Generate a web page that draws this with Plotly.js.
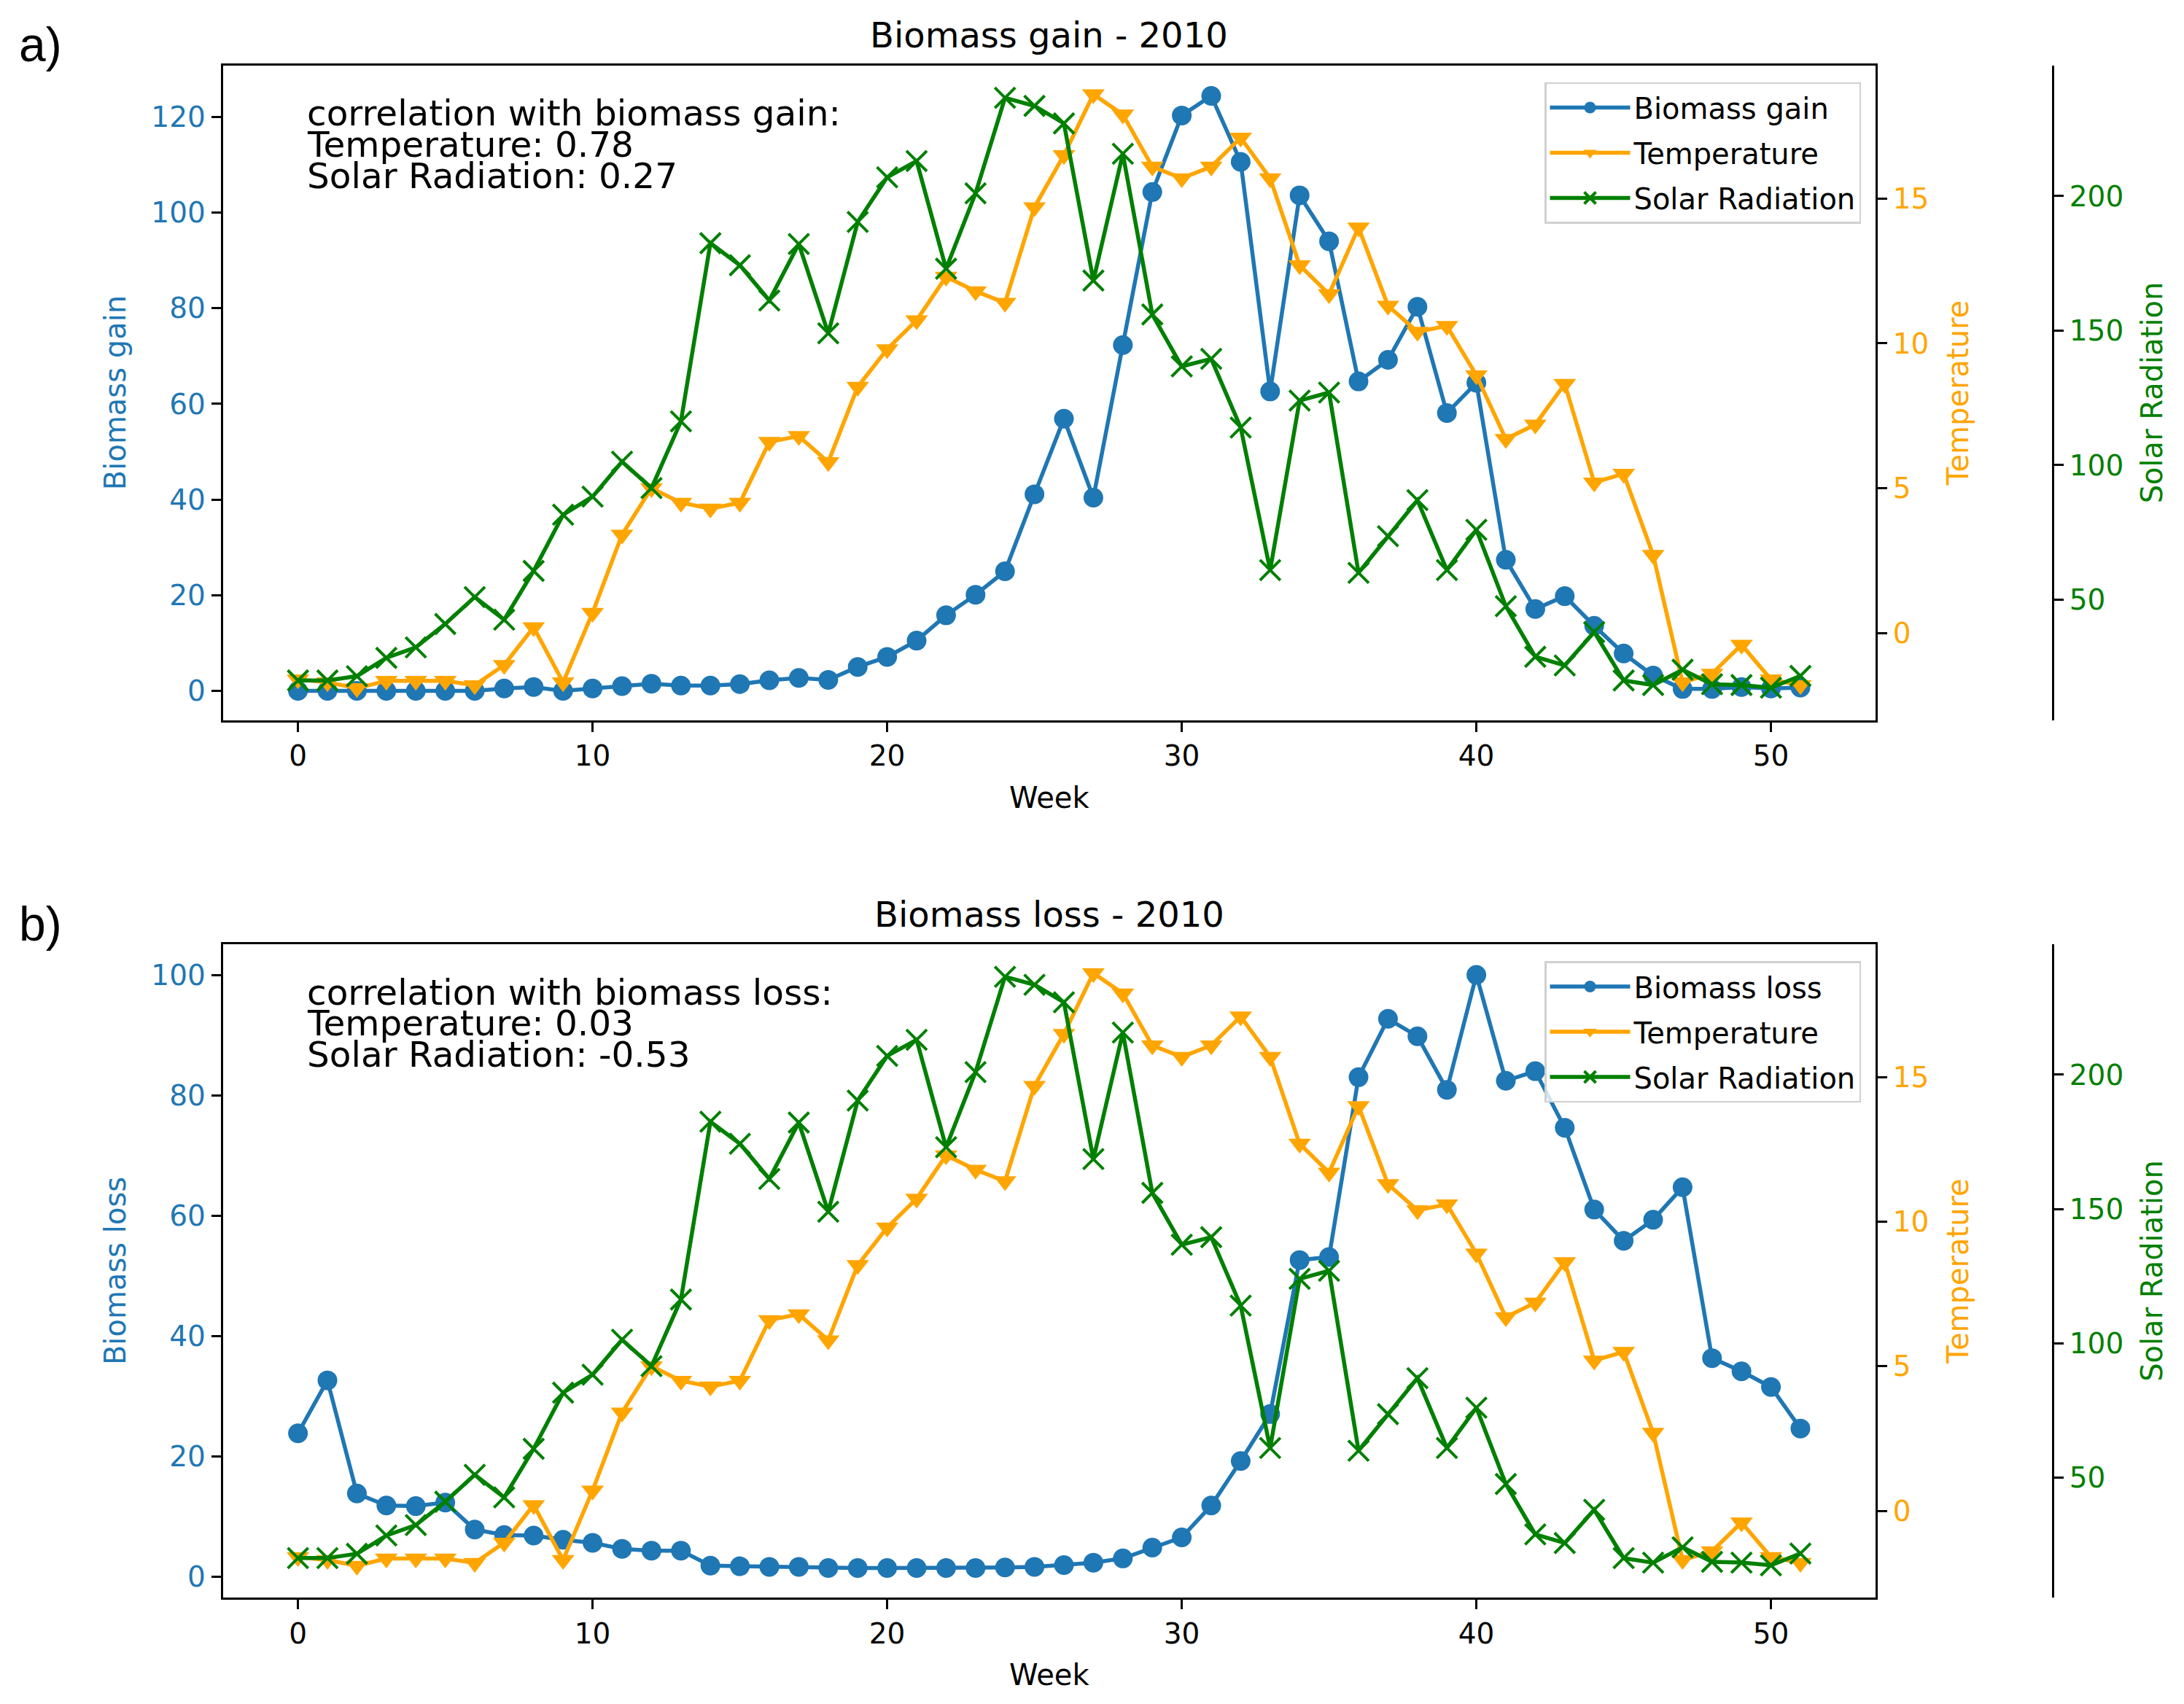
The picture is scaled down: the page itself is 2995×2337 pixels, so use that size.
<!DOCTYPE html>
<html>
<head>
<meta charset="utf-8">
<script src="https://cdn.plot.ly/plotly-3.0.1.min.js"></script>
<style>html,body{margin:0;padding:0;background:#fff;}#chart{width:2995px;height:2337px;}</style>
</head>
<body>
<div id="chart"></div>
<script>
// ---- data ----
const weeks = Array.from({length: 52}, (_, i) => i);
const biomassGain = [0, 0, 0, 0, 0, 0, 0, 0.5, 0.8, 0, 0.5, 1.0, 1.5, 1.1, 1.1, 1.4, 2.2, 2.7, 2.3, 5.0,
  7.1, 10.5, 15.8, 20.1, 25.0, 41.1, 56.9, 40.4, 72.3, 104.3, 120.3, 124.4, 110.6, 62.6, 103.6, 94.0,
  64.7, 69.2, 80.3, 58.1, 64.4, 27.4, 17.1, 19.8, 13.6, 7.8, 3.2, 0.4, 0.4, 0.8, 0.5, 0.7];
const biomassLoss = [23.8, 32.6, 13.8, 11.8, 11.7, 12.3, 7.8, 6.9, 6.8, 6.1, 5.6, 4.6, 4.3, 4.3, 1.8,
  1.7, 1.6, 1.6, 1.4, 1.4, 1.4, 1.4, 1.4, 1.4, 1.5, 1.6, 1.9, 2.3, 3.0, 4.8, 6.5, 11.8, 19.2, 27.0,
  52.6, 53.1, 83.0, 92.7, 89.8, 80.9, 100.0, 82.4, 84.0, 74.6, 61.0, 55.8, 59.3, 64.7, 36.3, 34.1, 31.5, 24.6];
const temperature = [-1.6, -1.7, -1.9, -1.65, -1.65, -1.65, -1.8, -1.1, 0.2, -1.7, 0.7, 3.4, 5.0, 4.5,
  4.3, 4.5, 6.6, 6.8, 5.9, 8.5, 9.8, 10.8, 12.3, 11.8, 11.4, 14.7, 16.5, 18.6, 17.9, 16.1, 15.7, 16.1,
  17.1, 15.7, 12.7, 11.7, 14.0, 11.3, 10.4, 10.6, 8.9, 6.7, 7.2, 8.6, 5.2, 5.5, 2.7, -1.7, -1.4, -0.4, -1.6, -1.8];
const solarRadiation = [20, 20, 21.6, 28.4, 32.3, 41, 51, 42.6, 60.7, 81.6, 88.3, 101.3, 91.5, 116.3,
  182.5, 174.3, 161.2, 182.2, 149, 190.4, 207, 213, 173, 201, 236.5, 233.5, 227, 168.6, 215.7, 156,
  136.7, 139.5, 114, 61, 124, 127, 60, 73.6, 87, 61, 76, 47.6, 28.8, 25.6, 38, 20, 18.3, 24, 18.6, 18.3, 17.3, 21.7];
const titles = ["Biomass gain - 2010", "Biomass loss - 2010"];
const panelLabels = ["a)", "b)"];
const corrText = [
  ["correlation with biomass gain:", "Temperature: 0.78", "Solar Radiation: 0.27"],
  ["correlation with biomass loss:", "Temperature: 0.03", "Solar Radiation: -0.53"]
];

// ---- style ----
const W = 2995, H = 2337;
const BLUE = "#1f77b4", ORANGE = "#FFA500", GREEN = "#008000";
const FONT = "DejaVu Sans";
const px2x = p => p / W;
const px2y = p => 1 - p / H;

const plotLeft = 305.6, plotRight = 2572;
const panels = [
  {top: 89.5, bottom: 987.5, bioRange: [-6.1, 130.8], name: "Biomass gain", data: biomassGain},
  {top: 1295, bottom: 2191, bioRange: [-3.5, 105.1], name: "Biomass loss", data: biomassLoss}
];
const tempRange = [-3.0, 19.6];
const solarRange = [5.3, 248.6];
const solarPos = 2815 / W;

const commonAxis = {
  showgrid: false, zeroline: false, showline: true, linecolor: "black", linewidth: 3,
  ticks: "outside", ticklen: 13, tickwidth: 3, tickcolor: "black"
};

const traces = [];
const layout = {
  width: W, height: H,
  margin: {l: 0, r: 0, t: 0, b: 0},
  paper_bgcolor: "white", plot_bgcolor: "white",
  font: {family: FONT, color: "black"},
  showlegend: true,
  annotations: []
};

panels.forEach((p, i) => {
  const xa = i === 0 ? "xaxis" : "xaxis2";
  const xr = i === 0 ? "x" : "x2";
  const yb = i === 0 ? 1 : 4;
  const yName = n => n === 1 ? "y" : "y" + n;
  const yKey = n => n === 1 ? "yaxis" : "yaxis" + n;
  const legendId = i === 0 ? "legend" : "legend2";

  layout[xa] = Object.assign({}, commonAxis, {
    domain: [px2x(plotLeft), px2x(plotRight)], anchor: yName(yb),
    range: [-2.55, 53.55], tick0: 0, dtick: 10, mirror: true,
    tickfont: {size: 39, color: "black", family: FONT},
    title: {text: "Week", font: {size: 40, color: "black", family: FONT}, standoff: 22}
  });
  layout[yKey(yb)] = Object.assign({}, commonAxis, {
    domain: [px2y(p.bottom), px2y(p.top)], anchor: xr, range: p.bioRange,
    tick0: 0, dtick: 20, mirror: true,
    tickfont: {size: 39, color: BLUE, family: FONT},
    title: {text: p.name, font: {size: 40, color: BLUE, family: FONT}, standoff: 23}
  });
  layout[yKey(yb + 1)] = Object.assign({}, commonAxis, {
    overlaying: yName(yb), side: "right", anchor: xr, range: tempRange,
    tick0: 0, dtick: 5,
    tickfont: {size: 39, color: ORANGE, family: FONT},
    title: {text: "Temperature", font: {size: 40, color: ORANGE, family: FONT}, standoff: 27}
  });
  layout[yKey(yb + 2)] = Object.assign({}, commonAxis, {
    overlaying: yName(yb), side: "right", anchor: "free", position: solarPos,
    range: solarRange, tick0: 0, dtick: 50,
    tickfont: {size: 39, color: GREEN, family: FONT},
    title: {text: "Solar Radiation", font: {size: 40, color: GREEN, family: FONT}, standoff: 25}
  });

  traces.push({
    x: weeks, y: p.data, xaxis: xr, yaxis: yName(yb), name: p.name, legend: legendId,
    legendgroup: "bio" + i,
    type: "scatter", mode: "lines+markers",
    line: {color: BLUE, width: 5.5}, marker: {symbol: "circle", size: 27, color: BLUE}
  });
  traces.push({
    x: weeks, y: temperature, xaxis: xr, yaxis: yName(yb + 1), name: "Temperature", legend: legendId,
    legendgroup: "temp" + i,
    type: "scatter", mode: "lines+markers",
    line: {color: ORANGE, width: 5.5}, marker: {symbol: "triangle-down", size: 27, color: ORANGE}
  });
  traces.push({
    x: weeks, y: solarRadiation, xaxis: xr, yaxis: yName(yb + 2), name: "Solar Radiation", legend: legendId,
    legendgroup: "solar" + i,
    type: "scatter", mode: "lines+markers",
    line: {color: GREEN, width: 5.5},
    marker: {symbol: "x-thin", size: 28, color: GREEN, line: {color: GREEN, width: 4}}
  });

  layout[legendId] = {
    x: px2x(2552), xanchor: "right", y: px2y(p.top + 23), yanchor: "top",
    xref: "paper", yref: "paper",
    font: {size: 40, family: FONT, color: "black"},
    bgcolor: "rgba(255,255,255,0.8)", bordercolor: "#d0d0d0", borderwidth: 2.5,
    itemwidth: 110, tracegroupgap: 7
  };

  // subplot title
  layout.annotations.push({
    text: titles[i], xref: "paper", yref: "paper",
    x: px2x((plotLeft + plotRight) / 2), y: px2y(p.top - 41), xanchor: "center", yanchor: "middle",
    showarrow: false, font: {size: 48, family: FONT, color: "black"}
  });
  // panel label
  layout.annotations.push({
    text: panelLabels[i], xref: "paper", yref: "paper",
    x: px2x(55), y: px2y(p.top - 28), xanchor: "center", yanchor: "middle",
    showarrow: false, font: {size: 66, family: "Liberation Sans", color: "black"}
  });
  // correlation text lines
  const lineCenters = [65.5, 108, 151];
  corrText[i].forEach((t, k) => {
    layout.annotations.push({
      text: t, xref: "paper", yref: "paper",
      x: px2x(418.8), y: px2y(p.top + lineCenters[k]), xanchor: "left", yanchor: "middle",
      showarrow: false, font: {size: 48.5, family: FONT, color: "black"}
    });
  });
});

Plotly.newPlot("chart", traces, layout, {displayModeBar: false, staticPlot: true});
</script>
</body>
</html>
